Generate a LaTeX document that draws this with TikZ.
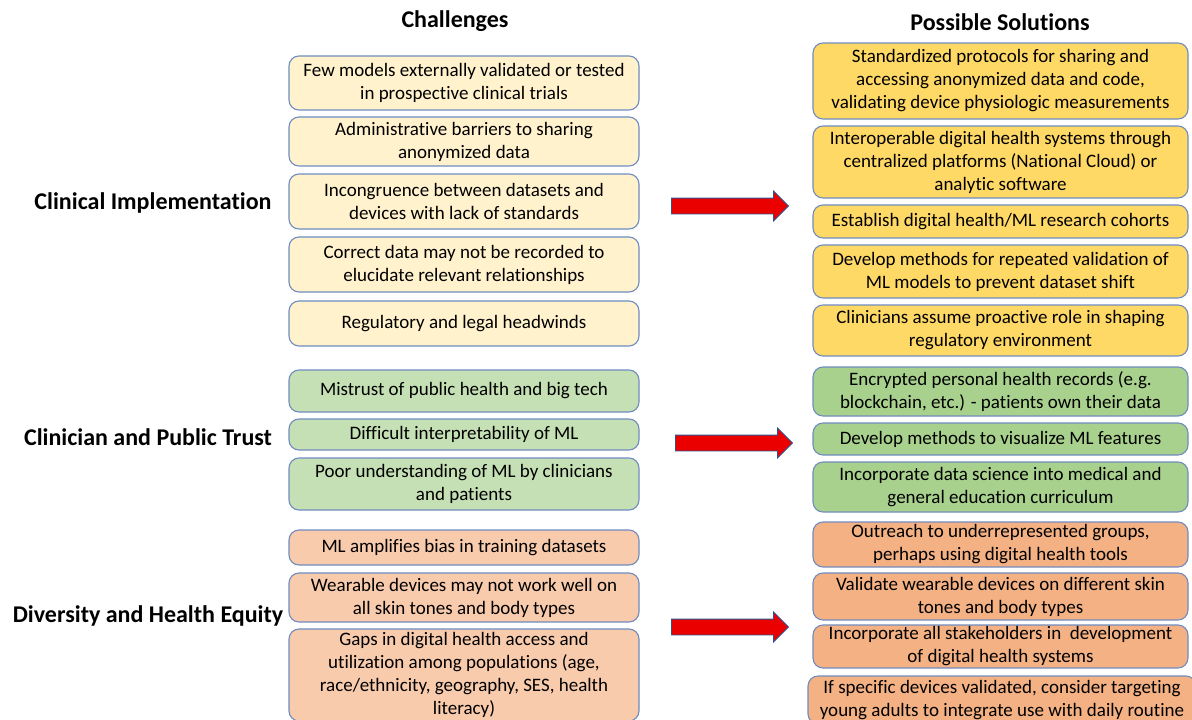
\documentclass[tikz,border=0pt]{standalone}
\usepackage{fontspec}
\setmainfont{Carlito}[Ligatures=NoCommon]
\usetikzlibrary{shapes.arrows}

\definecolor{chyel}{RGB}{255,242,204}
\definecolor{soyel}{RGB}{255,217,102}
\definecolor{chgrn}{RGB}{197,224,180}
\definecolor{sogrn}{RGB}{169,209,142}
\definecolor{chorg}{RGB}{248,203,173}
\definecolor{soorg}{RGB}{244,177,131}
\definecolor{edgeblue}{RGB}{112,140,190}
\definecolor{arrred}{RGB}{235,0,0}
\definecolor{arredge}{RGB}{47,82,143}

\tikzset{
  box/.style={draw=edgeblue, line width=1.1pt, rounded corners=10pt, align=center,
    inner sep=0pt, font=\fontsize{19}{23}\selectfont},
  chbox/.style={box, minimum width=350pt},
  sobox/.style={box, minimum width=375pt},
  head/.style={font=\fontsize{24}{28}\selectfont\bfseries},
  bigarrow/.style={single arrow, fill=arrred, draw=arredge, line width=0.8pt,
    minimum height=117pt, minimum width=29pt, inner sep=7.5pt, single arrow head extend=7pt}
}

\begin{document}
\begin{tikzpicture}[x=1pt,y=-1pt]
\useasboundingbox (0,0) rectangle (1192,720);

\node[head] (chal) at (455,21) {Challenges};
\node[head] (sol) at (1000,22) {Possible Solutions};

\node[head] (impl) at (153,203) {Clinical Implementation};
\node[head] (trust) at (148,437) {Clinician and Public Trust};
\node[head] (equity) at (148,616) {Diversity and Health Equity};

\foreach \n/\y/\h/\t in {
  c1/83/54/{Few models externally validated or tested\\in prospective clinical trials},
  c2/141.5/49/{Administrative barriers to sharing\\anonymized data},
  c3/201.5/55/{Incongruence between datasets and\\devices with lack of standards},
  c4/264.5/55/{Correct data may not be recorded to\\elucidate relevant relationships},
  c5/323.5/45/{Regulatory and legal headwinds}}{
  \node[chbox, fill=chyel, minimum height=\h pt] (\n) at (464,\y) {\t};
}
\foreach \n/\y/\h/\t in {
  t1/391/42/{Mistrust of public health and big tech},
  t2/434.5/31/{Difficult interpretability of ML},
  t3/484/52/{Poor understanding of ML by clinicians\\and patients}}{
  \node[chbox, fill=chgrn, minimum height=\h pt] (\n) at (464,\y) {\t};
}
\foreach \n/\y/\h/\t in {
  d1/547.5/35/{ML amplifies bias in training datasets},
  d2/597.5/49/{Wearable devices may not work well on\\all skin tones and body types},
  d3/675/92/{Gaps in digital health access and\\utilization among populations (age,\\race/ethnicity, geography, SES, health\\literacy)}}{
  \node[chbox, fill=chorg, minimum height=\h pt] (\n) at (464,\y) {\t};
}

\foreach \n/\y/\h/\t in {
  s1/81/76/{Standardized protocols for sharing and\\accessing anonymized data and code,\\validating device physiologic measurements},
  s2/162/72/{Interoperable digital health systems through\\centralized platforms (National Cloud) or\\analytic software},
  s3/221.5/33/{Establish digital health/ML research cohorts},
  s4/271.5/53/{Develop methods for repeated validation of\\ML models to prevent dataset shift},
  s5/330.5/51/{Clinicians assume proactive role in shaping\\regulatory environment}}{
  \node[sobox, fill=soyel, minimum height=\h pt] (\n) at (1000.5,\y) {\t};
}
\foreach \n/\y/\h/\t in {
  e1/391.5/49/{Encrypted personal health records (e.g.\\blockchain, etc.) - patients own their data},
  e2/439/32/{Develop methods to visualize ML features},
  e3/487/50/{Incorporate data science into medical and\\general education curriculum}}{
  \node[sobox, fill=sogrn, minimum height=\h pt] (\n) at (1000.5,\y) {\t};
}
\foreach \n/\y/\h/\t in {
  o1/544.5/45/{Outreach to underrepresented groups,\\perhaps using digital health tools},
  o2/596.5/47/{Validate wearable devices on different skin\\tones and body types},
  o3/646.5/43/{Incorporate all stakeholders in~ development\\of digital health systems}}{
  \node[sobox, fill=soorg, minimum height=\h pt] (\n) at (1000.5,\y) {\t};
}
\node[box, fill=soorg, minimum width=388pt, minimum height=48pt] (o4) at (1002,700)
  {If specific devices validated, consider targeting\\young adults to integrate use with daily routine};

\node[bigarrow] (a1) at (726,206) {};
\node[bigarrow] (a2) at (730,443) {};
\node[bigarrow] (a3) at (726,627) {};
\end{tikzpicture}
\end{document}
